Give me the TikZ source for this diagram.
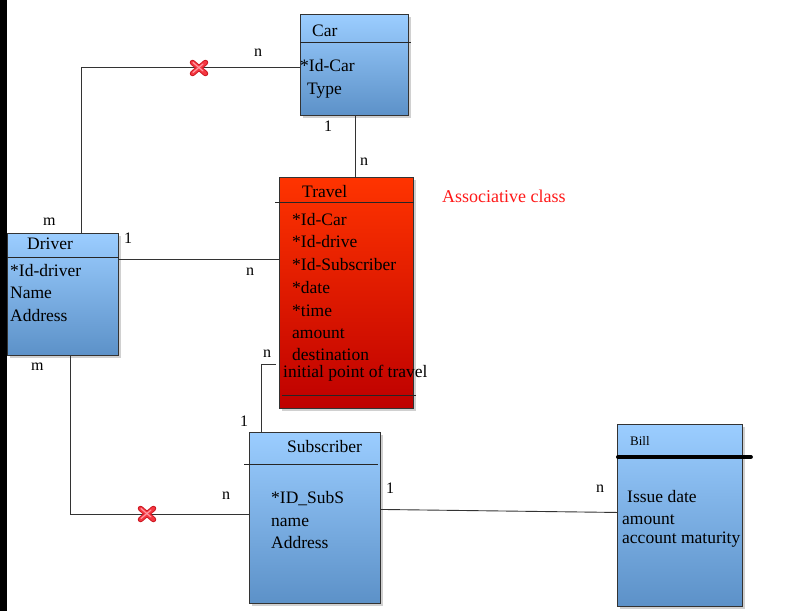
\documentclass[tikz,border=0pt]{standalone}
\usepackage{fontspec}
\setmainfont{Liberation Serif}
\usetikzlibrary{shadows,calc}
\definecolor{bluetop}{RGB}{155,205,255}
\definecolor{bluebot}{RGB}{92,145,200}
\definecolor{redtop}{RGB}{255,52,0}
\definecolor{redbot}{RGB}{190,0,0}
\definecolor{xdark}{RGB}{205,25,35}
\definecolor{xred}{RGB}{245,55,65}
\definecolor{xlight}{RGB}{255,150,160}
\begin{document}
\begin{tikzpicture}[x=1pt,y=-1pt,
  box/.style={draw=black!80,line width=0.9pt,anchor=north west,inner sep=0pt,
    drop shadow={shadow xshift=3pt,shadow yshift=-3pt,fill=black!30,opacity=0.6}},
  bluebox/.style={box,top color=bluetop,bottom color=bluebot},
  redbox/.style={box,top color=redtop,bottom color=redbot},
  txt/.style={anchor=base west,inner sep=0pt,font=\fontsize{17.5}{20}\selectfont},
  lbl/.style={anchor=base west,inner sep=0pt,font=\fontsize{16}{18}\selectfont},
  conn/.style={draw=black!80,line width=0.9pt},
  sep/.style={draw=black!85,line width=0.9pt},
  xout/.style={line width=5.5pt,xdark,line cap=round},
  xmark/.style={line width=3.6pt,xred,line cap=round},
  xhl/.style={line width=1.2pt,xlight,line cap=round}]
\useasboundingbox (0,0) rectangle (800,611);
\fill[white] (0,0) rectangle (800,611);
\fill[black] (0,0) rectangle (7,611);

% boxes
\node[bluebox,minimum width=108pt,minimum height=101pt] (car) at (300,14) {};
\node[redbox,minimum width=134pt,minimum height=231pt] (travel) at (279,177) {};
\node[bluebox,minimum width=111pt,minimum height=122pt] (driver) at (7,233) {};
\node[bluebox,minimum width=131pt,minimum height=171pt] (subscriber) at (249,432) {};
\node[bluebox,minimum width=125pt,minimum height=182pt] (bill) at (617,424) {};

% separators
\draw[sep] ([yshift=-28pt]car.north west) -- ([shift={(2pt,-28pt)}]car.north east);
\draw[sep] ([shift={(-4pt,-25pt)}]travel.north west) -- ([yshift=-25pt]travel.north east);
\draw[sep] ([shift={(3pt,13pt)}]travel.south west) -- ([shift={(2pt,13pt)}]travel.south east);
\draw[sep] ([yshift=-24pt]driver.north west) -- ([yshift=-24pt]driver.north east);
\draw[sep] ([shift={(-5pt,-32pt)}]subscriber.north west) -- ([shift={(-3pt,-32pt)}]subscriber.north east);
\draw[black,line width=4pt,line cap=round] ([shift={(1pt,-33pt)}]bill.north west) -- ([shift={(8pt,-33pt)}]bill.north east);

% connector coordinates
\coordinate (cd) at ([yshift=-2.5pt]car.west);
\coordinate (dc) at ([xshift=18.5pt]driver.north);
\coordinate (ct) at ([xshift=1pt]car.south);
\coordinate (dt) at ([yshift=-26pt]driver.north east);
\coordinate (ds) at ([xshift=7.5pt]driver.south);
\coordinate (sd) at ([yshift=3.5pt]subscriber.west);
\coordinate (st) at ([xshift=-53.5pt]subscriber.north);
\coordinate (ts) at ([shift={(-3pt,-71pt)}]travel.west);
\coordinate (sb) at ([yshift=8.5pt]subscriber.east);
\coordinate (bs) at ([yshift=3pt]bill.west);

% connectors
\draw[conn] (cd) -| (dc);
\draw[conn] (ct) -- (ct |- travel.north);
\draw[conn] (dt) -- (dt -| travel.west);
\draw[conn] (ds) |- (sd);
\draw[conn] (st) |- (ts);
\draw[conn] (sb) -- (bs);

% red crosses
\foreach \cx/\cy in {199/68,147/514}{
  \draw[xout] (\cx-6.5,\cy-5.5) -- (\cx+6.5,\cy+5.5);
  \draw[xout] (\cx-6.5,\cy+5.5) -- (\cx+6.5,\cy-5.5);
  \draw[xmark] (\cx-6.5,\cy-5.5) -- (\cx+6.5,\cy+5.5);
  \draw[xmark] (\cx-6.5,\cy+5.5) -- (\cx+6.5,\cy-5.5);
  \draw[xhl] (\cx-6,\cy-5.5) -- (\cx+4,\cy+3);
  \draw[xhl] (\cx-6,\cy+4.5) -- (\cx+4,\cy-4);
}

% Car texts
\node[txt] (carh) at (312,36) {Car};
\node[txt] (car1) at (300,71) {*Id-Car};
\node[txt] (car2) at (307,94) {Type};

% Travel texts
\node[txt] (trh) at (302,197) {Travel};
\node[txt] (tr1) at (292,225) {*Id-Car};
\node[txt] (tr2) at (292,247) {*Id-drive};
\node[txt] (tr3) at (292,270) {*Id-Subscriber};
\node[txt] (tr4) at (292,293) {*date};
\node[txt] (tr5) at (292,316) {*time};
\node[txt] (tr6) at (292,338) {amount};
\node[txt] (tr7) at (292,360) {destination};
\node[txt] (tr8) at (283,377) {initial point of travel};
\node[txt,text=red!90!white,font=\fontsize{18}{20}\selectfont] (assoc) at (442,202) {Associative class};

% Driver texts
\node[txt] (drh) at (27,249) {Driver};
\node[txt] (dr1) at (10,276) {*Id-driver};
\node[txt] (dr2) at (10,298) {Name};
\node[txt] (dr3) at (10,321) {Address};

% Subscriber texts
\node[txt] (suh) at (287,452) {Subscriber};
\node[txt] (su1) at (271,503) {*ID\_SubS};
\node[txt] (su2) at (271,526) {name};
\node[txt] (su3) at (271,548) {Address};

% Bill texts
\node[txt,font=\fontsize{13}{15}\selectfont] (bih) at (630,445) {Bill};
\node[txt] (bi1) at (627,502) {Issue date};
\node[txt] (bi2) at (622,524) {amount};
\node[txt] (bi3) at (622,543) {account maturity};

% multiplicity labels
\node[lbl] (l1) at (254,56) {n};
\node[lbl] (l2) at (43,225) {m};
\node[lbl] (l3) at (324,131) {1};
\node[lbl] (l4) at (360,165) {n};
\node[lbl] (l5) at (124,243) {1};
\node[lbl] (l6) at (246,275) {n};
\node[lbl] (l7) at (31,370) {m};
\node[lbl] (l8) at (263,357) {n};
\node[lbl] (l9) at (240,426) {1};
\node[lbl] (l10) at (222,499) {n};
\node[lbl] (l11) at (386,493) {1};
\node[lbl] (l12) at (596,492) {n};
\end{tikzpicture}
\end{document}
